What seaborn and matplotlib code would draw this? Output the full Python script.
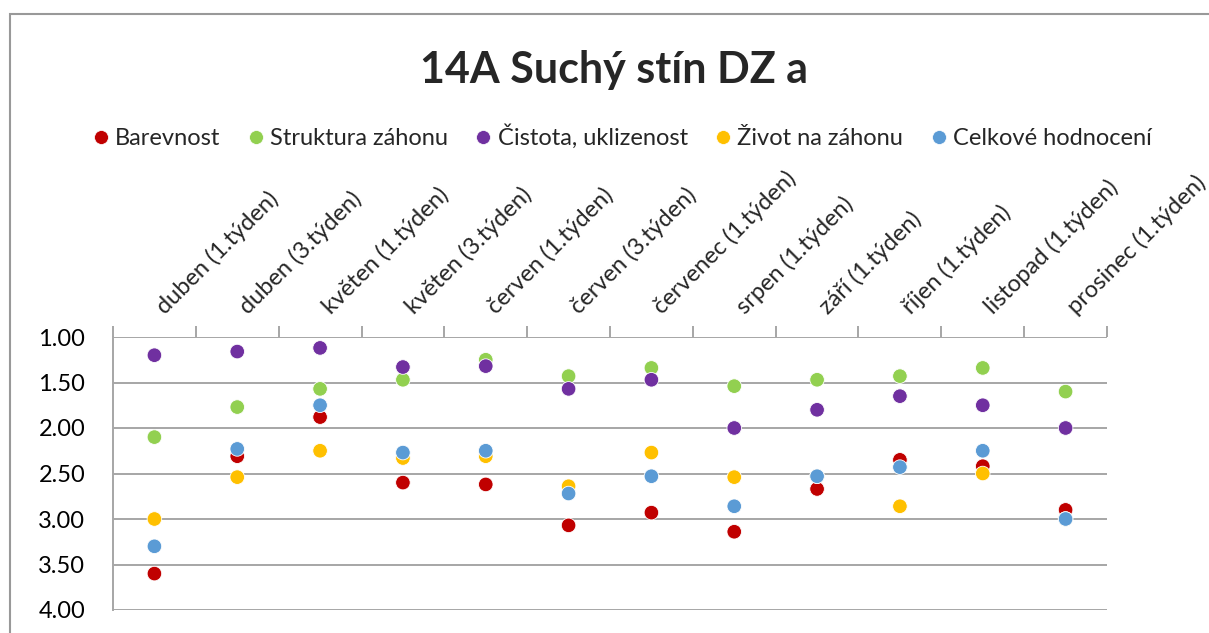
import pandas as pd
import seaborn as sns
import matplotlib.pyplot as plt
import matplotlib.patches as patches
import matplotlib.transforms as mtransforms
from matplotlib.lines import Line2D

# Données du graphique
kategorie = ["duben (1.týden)", "duben (3.týden)", "květen (1.týden)", "květen (3.týden)",
             "červen (1.týden)", "červen (3.týden)", "červenec (1.týden)", "srpen (1.týden)",
             "září (1.týden)", "říjen (1.týden)", "listopad (1.týden)", "prosinec (1.týden)"]

barevnost = [3.60, 2.31, 1.88, 2.60, 2.62, 3.07, 2.93, 3.14, 2.67, 2.35, 2.42, 2.90]
struktura = [2.10, 1.77, 1.57, 1.47, 1.25, 1.43, 1.34, 1.54, 1.47, 1.43, 1.34, 1.60]
cistota = [1.20, 1.16, 1.12, 1.33, 1.32, 1.57, 1.47, 2.00, 1.80, 1.65, 1.75, 2.00]
zivot = [3.00, 2.54, 2.25, 2.33, 2.31, 2.64, 2.27, 2.54, 2.53, 2.86, 2.50, 3.00]
celkove = [3.30, 2.23, 1.75, 2.27, 2.25, 2.72, 2.53, 2.86, 2.53, 2.43, 2.25, 3.00]

serie = ["Barevnost", "Struktura záhonu", "Čistota, uklizenost", "Život na záhonu", "Celkové hodnocení"]
barvy = ["#C00000", "#92D050", "#7030A0", "#FFC000", "#5B9BD5"]

# Tableau long (ordre des séries = ordre de dessin)
rows = []
for nom, vals in zip(serie, [barevnost, struktura, cistota, zivot, celkove]):
    for i, v in enumerate(vals):
        rows.append({"pos": i, "hodnota": v, "serie": nom})
df = pd.DataFrame(rows)

sns.set_style("white")
plt.rcParams["font.family"] = ["Lato", "DejaVu Sans"]

fig = plt.figure(figsize=(12.09, 6.33), dpi=100)
ax = fig.add_axes([113 / 1209, 1 - 610 / 633, (1107 - 113) / 1209, (610 - 337) / 633])

sns.scatterplot(data=df, x="pos", y="hodnota", hue="serie", hue_order=serie,
                palette=barvy, s=110, edgecolor="white", linewidth=0.6,
                legend=False, ax=ax, zorder=3)

grey = "#A6A6A6"
ax.set_xlim(-0.5, len(kategorie) - 0.5)
ax.set_ylim(4, 1)
yt = [1.0, 1.5, 2.0, 2.5, 3.0, 3.5, 4.0]
ax.set_yticks(yt)
ax.set_yticklabels([f"{v:.2f}" for v in yt], fontsize=17)
ax.yaxis.grid(True, color=grey, linewidth=1.4)
ax.set_axisbelow(True)
ax.tick_params(axis="y", length=8, color=grey, width=1.4, pad=12, labelcolor="black")

# Axe des catégories en haut : traits aux limites, textes inclinés à 45°
ax.xaxis.tick_top()
ax.set_xticks([i - 0.5 for i in range(len(kategorie) + 1)])
ax.set_xticklabels([])
ax.tick_params(axis="x", top=True, bottom=False, length=8, color=grey, width=1.4)
trans = mtransforms.blended_transform_factory(ax.transData, ax.transAxes)
for i, lab in enumerate(kategorie):
    ax.text(i + 0.13, 1 + 22 / 273, lab, transform=trans, rotation=45, ha="left",
            va="baseline", rotation_mode="anchor", fontsize=17, clip_on=False)
ax.set_xlabel("")
ax.set_ylabel("")

for s in ["right", "bottom", "top"]:
    ax.spines[s].set_visible(False)
ax.spines["left"].set_color(grey)
ax.spines["left"].set_linewidth(1.4)

# Titre et légende
fig.text(0.508, 1 - 70 / 633, "14A Suchý stín DZ a", ha="center", va="center",
         fontsize=31, fontweight="bold")

handles = [Line2D([], [], marker="o", linestyle="", markersize=10, markerfacecolor=c,
                  markeredgecolor="white", markeredgewidth=0.5) for c in barvy]
fig.legend(handles, serie, loc="center", bbox_to_anchor=(0.513, 1 - 137 / 633), ncol=5,
           frameon=False, fontsize=17, handletextpad=0.1, columnspacing=1.0, handlelength=1.0)

# Cadre extérieur
fig.patches.append(patches.Rectangle((10 / 1209, -0.1), 1.2, 1 - 14 / 633 + 0.1,
                                     transform=fig.transFigure, fill=False,
                                     edgecolor="#999999", linewidth=1.5))

fig.savefig("out.png", dpi=100)
